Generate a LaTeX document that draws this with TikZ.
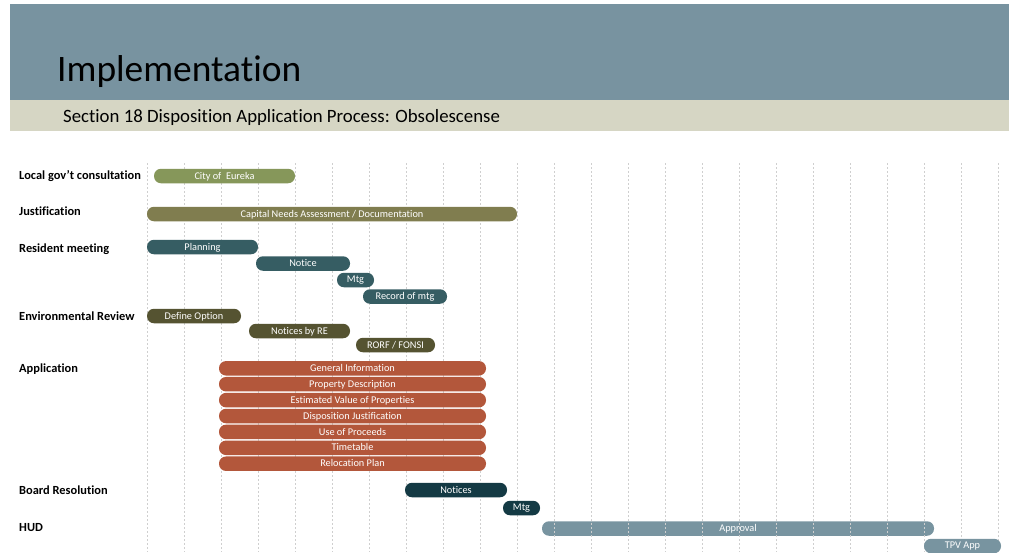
\documentclass[tikz,border=0pt]{standalone}
\usepackage{fontspec}
\setmainfont{Carlito}[Ligatures=NoCommon]
\definecolor{hdr}{HTML}{7893A0}
\definecolor{tan}{HTML}{D6D6C4}
\definecolor{cgreen}{HTML}{86975A}
\definecolor{colive}{HTML}{807D4F}
\definecolor{cteal}{HTML}{365D63}
\definecolor{cdolive}{HTML}{555331}
\definecolor{crust}{HTML}{B3573B}
\definecolor{cdark}{HTML}{143A44}
\definecolor{chud}{HTML}{7894A0}
\definecolor{gridc}{HTML}{CFCFCF}
\newcommand{\gbar}[6]{\node[barbox, fill=#5, minimum width={#3pt-#2pt}] (#1) at ({(#2+#3)/2},#4) {#6};}
\begin{document}
\begin{tikzpicture}[x=1pt,y=-1pt,
  barbox/.style={rounded corners=7pt, minimum height=14.5pt, inner sep=0pt, text=white, text depth=0.2ex, font=\fontsize{10.3}{11}\selectfont},
  lab/.style={anchor=base west, inner sep=0pt, font=\bfseries\fontsize{12.4}{14}\selectfont},
  gridline/.style={draw=gridc, line width=0.6pt, dash pattern=on 2pt off 2pt}]
\useasboundingbox (0,0) rectangle (1009,552);
\fill[white] (0,0) rectangle (1009,552);
% header
\fill[hdr] (10,4) rectangle (1009,100);
\fill[tan] (10,100) rectangle (1009,131);
\node[anchor=base west, inner sep=0pt, font=\fontsize{37.4}{40}\selectfont] (title) at (57,81) {Implementation};
\node[anchor=base west, inner sep=0pt, font=\fontsize{18.8}{22}\selectfont] (sub) at (63,122) {Section 18 Disposition Application Process: Obsolescense};
% HUD approval bar under the grid
\gbar{appr}{542}{934}{528.5}{chud}{Approval}
% grid
\foreach \i in {0,...,23} \draw[gridline] (147+37*\i,163) -- (147+37*\i,552);
% labels
\node[lab] (l1) at (19,179) {Local gov’t consultation};
\node[lab] (l2) at (19,215.5) {Justification};
\node[lab] (l3) at (19,252) {Resident meeting};
\node[lab] (l4) at (19,320) {Environmental Review};
\node[lab] (l5) at (19,372) {Application};
\node[lab] (l6) at (19,494) {Board Resolution};
\node[lab] (l7) at (19,531) {HUD};
% bars
\gbar{city}{154}{295}{176}{cgreen}{City of\ \ Eureka}
\gbar{cna}{147}{517}{214}{colive}{Capital Needs Assessment / Documentation}
\gbar{plan}{147}{258}{247}{cteal}{Planning}
\gbar{notice}{256}{350}{263.5}{cteal}{Notice}
\gbar{mtga}{337}{374}{280}{cteal}{Mtg}
\gbar{rec}{363}{447}{296.5}{cteal}{Record of mtg}
\gbar{def}{147}{241}{316}{cdolive}{Define Option}
\gbar{nre}{249}{350}{331}{cdolive}{Notices by RE}
\gbar{rorf}{356}{435}{345}{cdolive}{RORF / FONSI}
\gbar{a1}{219}{486}{368.3}{crust}{General Information}
\gbar{a2}{219}{486}{384.2}{crust}{Property Description}
\gbar{a3}{219}{486}{400.1}{crust}{Estimated Value of Properties}
\gbar{a4}{219}{486}{416}{crust}{Disposition Justification}
\gbar{a5}{219}{486}{431.9}{crust}{Use of Proceeds}
\gbar{a6}{219}{486}{447.8}{crust}{Timetable}
\gbar{a7}{219}{486}{463.7}{crust}{Relocation Plan}
\gbar{bnot}{405}{507}{490}{cdark}{Notices}
\gbar{mtgb}{503}{540}{508}{cdark}{Mtg}
\gbar{tpv}{924}{1001}{546}{chud}{TPV App}
\end{tikzpicture}
\end{document}
